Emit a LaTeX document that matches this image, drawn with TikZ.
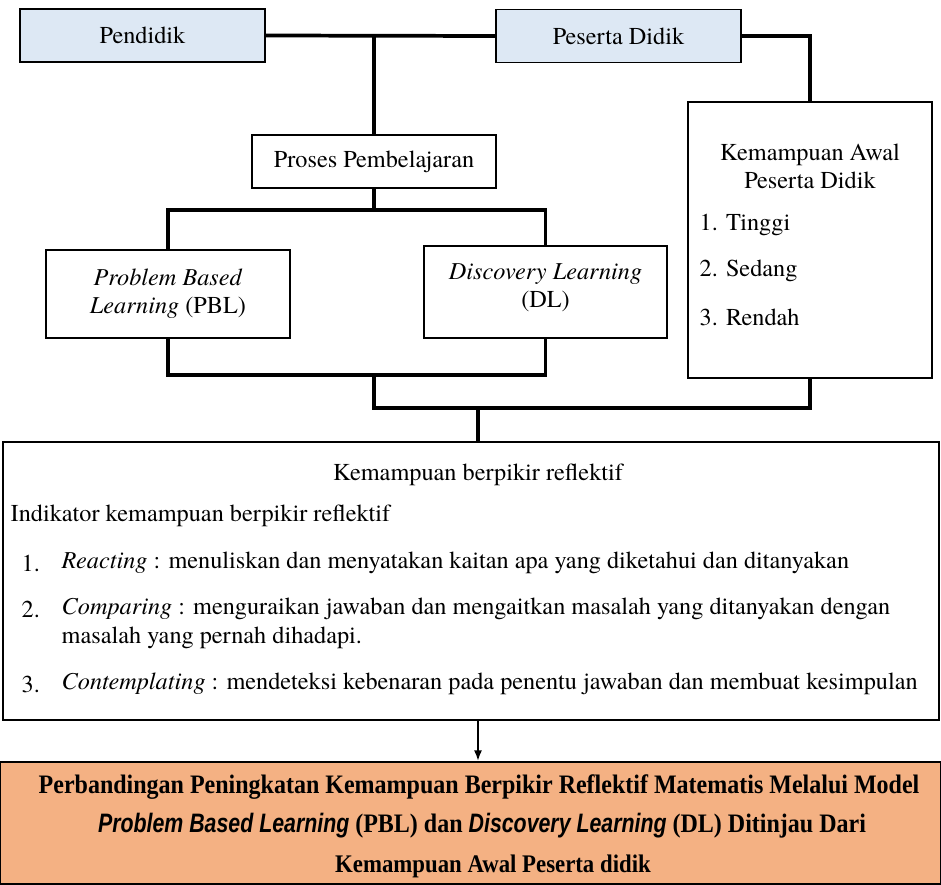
\documentclass[tikz,border=0pt]{standalone}
\usepackage{fontspec}
\setmainfont{texgyretermes}[Extension=.otf, UprightFont=*-regular, ItalicFont=*-italic, BoldFont=*-bold, BoldItalicFont=*-bolditalic]
\newfontfamily\tnr{texgyretermes}[Extension=.otf, UprightFont=*-regular, ItalicFont=*-italic, BoldFont=*-bold, BoldItalicFont=*-bolditalic]
\newfontfamily\narrowserif[FakeStretch=0.9]{Liberation Serif}
\newfontfamily\narrowsans[FakeStretch=0.8]{Liberation Sans}
\usetikzlibrary{arrows.meta}

\definecolor{birumuda}{HTML}{DDE8F4}
\definecolor{oranye}{HTML}{F4B183}

\begin{document}
\begin{tikzpicture}[x=0.75pt, y=-0.75pt]
    \tikzstyle{every node} = [font=\tnr\fontsize{18.2}{21}\selectfont]
    \tikzstyle{kotak} = [draw, line width=1.3pt, inner sep=0pt, align=center]
    \tikzstyle{konektor} = [line width=2.8pt]
    \useasboundingbox (0, 0) rectangle (941, 884);

    % baris atas
    \node [kotak, fill=birumuda, minimum width=245*0.75pt, minimum height=53*0.75pt] (pendidik) at (142.5, 35.5) {Pendidik};
    \node [kotak, fill=birumuda, minimum width=245*0.75pt, minimum height=53*0.75pt] (peserta) at (618.5, 36) {Peserta Didik};
    \node [kotak, minimum width=244*0.75pt, minimum height=53*0.75pt] (proses) at (374, 161.5) {Proses Pembelajaran};

    % kemampuan awal
    \node [kotak, minimum width=244*0.75pt, minimum height=276*0.75pt] (awal) at (810, 240) {};
    \node (awaljudul) at (810, 166) [align=center] {Kemampuan Awal\\Peserta Didik};
    \foreach \n/\t/\y in {1/Tinggi/225, 2/Sedang/271, 3/Rendah/317}
      \node [anchor=west] (awal\n) at (695, \y) {\n. \t};

    % model pembelajaran
    \node [kotak, minimum width=244*0.75pt, minimum height=88*0.75pt] (pbl) at (168, 294) {\textit{Problem Based}\\\textit{Learning} (PBL)};
    \node [kotak, minimum width=243*0.75pt, minimum height=92*0.75pt] (dl) at (545.5, 292) {\textit{Discovery Learning}\\(DL)\\[-12pt]};

    % berpikir reflektif
    \node [kotak, minimum width=936*0.75pt, minimum height=278*0.75pt] (refleksi) at (471, 581) {};
    \node (refjudul) at (478, 475) {Kemampuan berpikir reflektif};
    \node [anchor=west] (indikator) at (6, 516) {Indikator kemampuan berpikir reflektif};
    \node [anchor=west] (no1) at (17, 563) {1.};
    \node [anchor=west] (no2) at (17, 609) {2.};
    \node [anchor=west] (no3) at (17, 684) {3.};
    \node [anchor=west] (reacting) at (57, 563) {\textit{Reacting} : menuliskan dan menyatakan kaitan apa yang diketahui dan ditanyakan};
    \node [anchor=west] (comparing) at (57, 609) {\textit{Comparing} : menguraikan jawaban dan mengaitkan masalah yang ditanyakan dengan};
    \node [anchor=west] (comparing2) at (57, 638) {masalah yang pernah dihadapi.};
    \node [anchor=west] (contemplating) at (57, 684) {\textit{Contemplating} : mendeteksi kebenaran pada penentu jawaban dan membuat kesimpulan};

    % judul
    \node [kotak, fill=oranye, minimum width=940*0.75pt, minimum height=122*0.75pt] (judul) at (470.5, 823) {};
    \node (judul1) at (479, 787) {\narrowserif\fontsize{20}{24}\selectfont\bfseries Perbandingan Peningkatan Kemampuan Berpikir Reflektif Matematis Melalui Model};
    \node (judul2) at (482, 826) {\narrowsans\fontsize{20}{24}\selectfont\bfseries\itshape Problem Based Learning \narrowserif\upshape(PBL) dan \narrowsans\itshape Discovery Learning \narrowserif\upshape(DL) Ditinjau Dari};
    \node (judul3) at (493, 866) {\narrowserif\fontsize{19}{24}\selectfont\bfseries Kemampuan Awal Peserta didik};

    % konektor
    \coordinate (cabang) at (374, 210);
    \coordinate (gabung) at (374, 375);
    \coordinate (temu) at (374, 408);
    \coordinate (turun) at (478, 408);
    \draw [konektor] (pendidik.east) -- (peserta.west);
    \draw [konektor] (proses.north) -- (proses.north |- pendidik.east);
    \draw [konektor] (peserta.east) -| (awal.north);
    \draw [konektor] (proses.south) -- (cabang);
    \draw [konektor] (pbl.north) |- (cabang) -| (dl.north);
    \draw [konektor] (pbl.south) |- (gabung) -| (dl.south);
    \draw [konektor] (gabung) -- (temu) -| (awal.south);
    \draw [konektor] (turun) -- (turun |- refleksi.north);
    \draw [line width=1.5pt, -{Latex[length=8pt, width=6pt]}] (turun |- refleksi.south) -- (turun |- judul.north);
  \end{tikzpicture}
\end{document}
